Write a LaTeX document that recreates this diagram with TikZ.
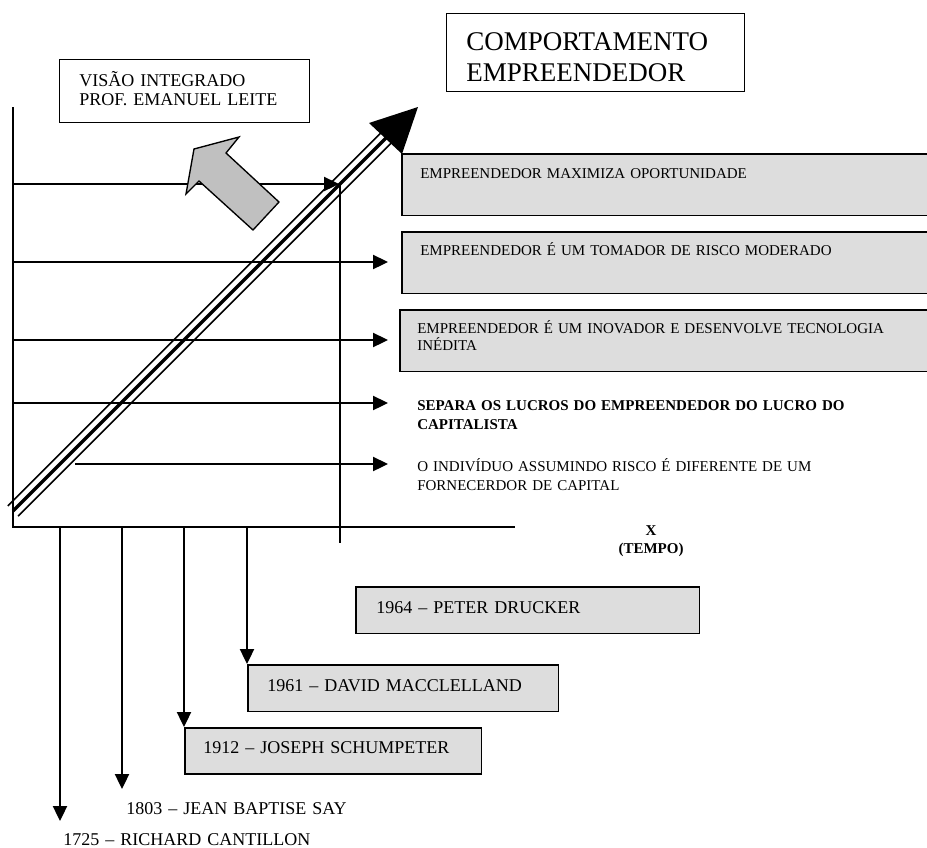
\documentclass[tikz,border=0pt]{standalone}
\usepackage{fontspec}
\setmainfont{Liberation Serif}
\usetikzlibrary{arrows.meta,calc}
\definecolor{boxgray}{HTML}{DDDDDD}
\definecolor{arrowgray}{HTML}{C0C0C0}
\begin{document}
\begin{tikzpicture}[x=0.6667pt,y=-0.6667pt,
  ln/.style={line width=0.9pt},
  arr/.style={ln,-{Triangle[length=10pt,width=9.5pt]}},
  gbox/.style={draw,line width=1pt,fill=boxgray,inner sep=0pt,anchor=north west},
  wbox/.style={draw,line width=0.9pt,fill=white,inner sep=0pt,anchor=north west},
  tsmall/.style={font=\fontsize{10}{11.8}\selectfont,inner sep=0pt,anchor=base west,text width=360pt,align=left},
  tmid/.style={font=\fontsize{12}{13.3}\selectfont,inner sep=0pt,anchor=base west,text width=200pt,align=left},
  tbig/.style={font=\fontsize{18}{21.3}\selectfont,inner sep=0pt,anchor=base west,text width=200pt,align=left}
]
\useasboundingbox (0,0) rectangle (927,847);
\clip (0,0) rectangle (927,847);

% title boxes
\node[wbox,minimum width=198.7pt,minimum height=52pt] (tbox) at (446,13) {};
\node[tbig] (ttext) at (466,50) {COMPORTAMENTO\\EMPREENDEDOR};
\node[wbox,minimum width=166.7pt,minimum height=42pt] (vbox) at (59,59) {};
\node[tmid] (vtext) at (79,86) {VISÃO INTEGRADO\\PROF. EMANUEL LEITE};

% right gray boxes
\node[gbox,minimum width=353pt,minimum height=41.3pt] (b1) at (401,153) {};
\node[tsmall] (t1) at (420,178) {EMPREENDEDOR MAXIMIZA OPORTUNIDADE};
\node[gbox,minimum width=353pt,minimum height=41.3pt] (b2) at (401,231) {};
\node[tsmall] (t2) at (420,255) {EMPREENDEDOR É UM TOMADOR DE RISCO MODERADO};
\node[gbox,minimum width=355pt,minimum height=41.3pt] (b3) at (399,309) {};
\node[tsmall] (t3) at (417,333) {EMPREENDEDOR É UM INOVADOR E DESENVOLVE TECNOLOGIA\\INÉDITA};
\node[tsmall,font=\fontsize{10}{12.7}\selectfont\bfseries] (t4) at (417,410) {SEPARA OS LUCROS DO EMPREENDEDOR DO LUCRO DO\\CAPITALISTA};
\node[tsmall,font=\fontsize{10}{13}\selectfont] (t5) at (417,471) {O INDIVÍDUO ASSUMINDO RISCO É DIFERENTE DE UM\\FORNECERDOR DE CAPITAL};
\node[font=\fontsize{10}{12}\selectfont\bfseries,inner sep=0pt,anchor=base,text width=60pt,align=center] (tx) at (651,535) {X\\(TEMPO)};

% axes
\coordinate (ytop) at (13,107);
\coordinate (O) at (13,527);
\coordinate (xend) at (515,527);
\draw[ln] (ytop) -- (O) -- (xend);

% horizontal arrows
\coordinate (h1s) at (13,184); \coordinate (h1e) at (339,184);
\coordinate (h2s) at (13,262); \coordinate (h2e) at (388,262);
\coordinate (h3s) at (13,340); \coordinate (h3e) at (388,340);
\coordinate (h4s) at (13,403); \coordinate (h4e) at (388,403);
\coordinate (h5s) at (75,464); \coordinate (h5e) at (388,464);
\draw[arr] (h1s) -- (h1e);
\draw[arr] (h2s) -- (h2e);
\draw[arr] (h3s) -- (h3e);
\draw[arr] (h4s) -- (h4e);
\draw[arr] (h5s) -- (h5e);

% vertical line
\coordinate (v1) at (340,184);
\coordinate (v2) at (340,543);
\draw[ln] (v1) -- (v2);

% bottom boxes and labels
\node[gbox,minimum width=229.3pt,minimum height=31.3pt] (b1964) at (355,586) {};
\node[tmid] (l1964) at (376,613) {1964 – PETER DRUCKER};
\node[gbox,minimum width=207.3pt,minimum height=31.3pt] (b1961) at (247,664) {};
\node[tmid] (l1961) at (267,691) {1961 – DAVID MACCLELLAND};
\node[gbox,minimum width=198pt,minimum height=30.7pt] (b1912) at (184,727) {};
\node[tmid] (l1912) at (203,753) {1912 – JOSEPH SCHUMPETER};
\node[tmid] (l1803) at (126,814) {1803 – JEAN BAPTISE SAY};
\node[tmid] (l1725) at (63,845) {1725 – RICHARD CANTILLON};

% down arrows
\coordinate (d1s) at (60,527); \coordinate (d1e) at (60,821);
\coordinate (d2s) at (122,527); \coordinate (d2e) at (122,789);
\coordinate (d3s) at (184,527);
\coordinate (d4s) at (247,527);
\draw[arr] (d1s) -- (d1e);
\draw[arr] (d2s) -- (d2e);
\draw[arr] (d3s) -- (b1912.north west);
\draw[arr] (d4s) -- (b1961.north west);

% gray block arrow
\filldraw[fill=arrowgray,line width=0.9pt,line join=miter] (194,149) -- (239,137) -- (226,153) -- (279,202) -- (253,230) -- (199,181) -- (186,194) -- cycle;

% diagonal triple-line arrow
\coordinate (dS) at (13,511);
\coordinate (dE) at (391,133);
\draw[line width=2.2pt] (dS) -- (dE);
\draw[line width=1.1pt] ($(dS)!4.8pt!90:(dE)$) -- ($(dE)!4.8pt!-90:(dS)$);
\draw[line width=1.1pt] ($(dS)!4.8pt!-90:(dE)$) -- ($(dE)!4.8pt!90:(dS)$);
\coordinate (htip) at (418,107);
\coordinate (hc1) at (369,123);
\coordinate (hc2) at (402,154);
\fill (htip) -- (hc1) -- (hc2) -- cycle;
\end{tikzpicture}
\end{document}
